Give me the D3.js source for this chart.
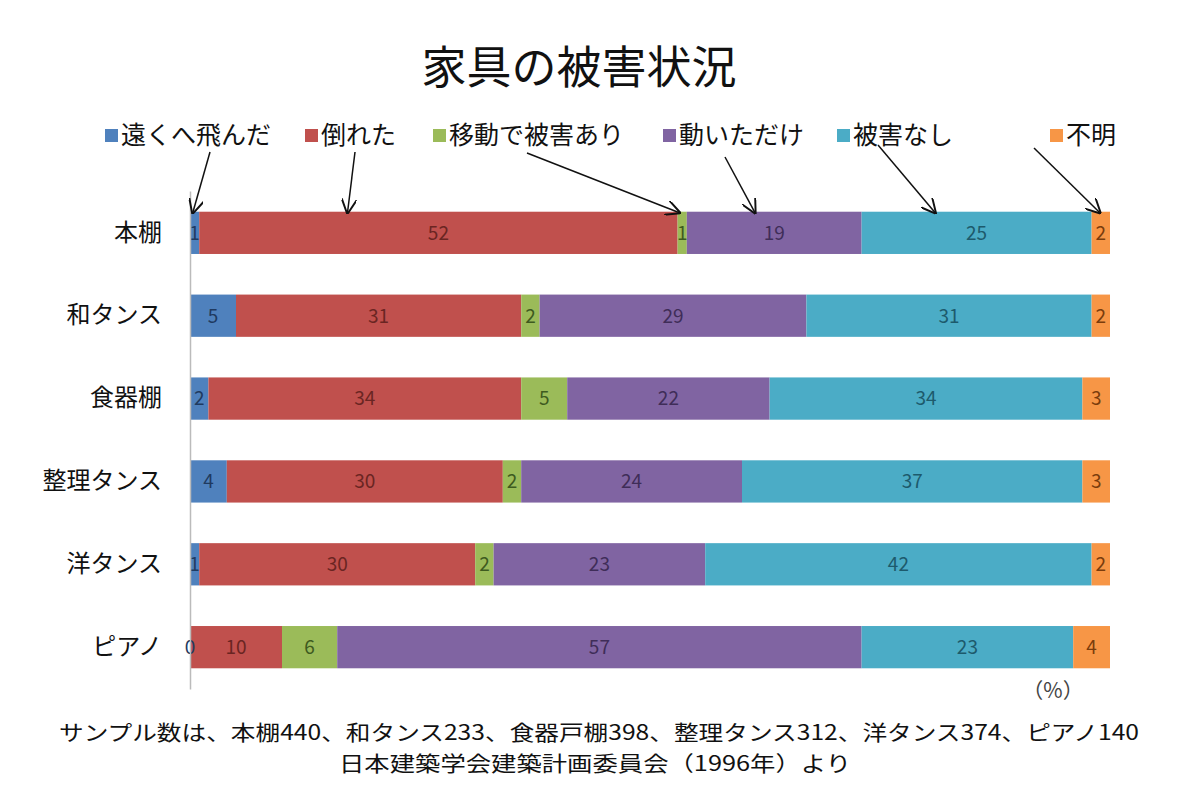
<!DOCTYPE html>
<html>
<head>
<meta charset="utf-8">
<script src="https://cdn.jsdelivr.net/npm/d3@7"></script>
<style>
  body { margin: 0; background: #fff; }
  text { font-family: "Noto Sans CJK JP", "Noto Sans", sans-serif; }
</style>
</head>
<body>
<div id="chart"></div>
<script>
// 1. Data
const categories = ["本棚", "和タンス", "食器棚", "整理タンス", "洋タンス", "ピアノ"];
const seriesNames = ["遠くへ飛んだ", "倒れた", "移動で被害あり", "動いただけ", "被害なし", "不明"];
const farAway = [1, 5, 2, 4, 1, 0];
const fellOver = [52, 31, 34, 30, 30, 10];
const movedDamaged = [1, 2, 5, 2, 2, 6];
const movedOnly = [19, 29, 22, 24, 23, 57];
const noDamage = [25, 31, 34, 37, 42, 23];
const unknown = [2, 2, 3, 3, 2, 4];
const seriesValues = [farAway, fellOver, movedDamaged, movedOnly, noDamage, unknown];

const colors = ["#4f81bd", "#c0504d", "#9bbb59", "#8064a2", "#4bacc6", "#f79646"];
const labelColors = ["#1f3a60", "#6a2522", "#3e5a1f", "#3f2d58", "#1d5a6c", "#7a3c0c"];

const rows = categories.map((c, i) => {
  const r = { category: c };
  seriesNames.forEach((s, j) => (r[s] = seriesValues[j][i]));
  return r;
});
const stacked = d3.stack().keys(seriesNames)(rows);

// 2. Dimensions
const dims = { width: 1200, height: 809, left: 190, right: 1110, top: 191, bottom: 689 };

// 3. Container
const svg = d3.select("#chart").append("svg")
  .attr("width", dims.width)
  .attr("height", dims.height);

// 4. Scales
const xScale = d3.scaleLinear().domain([0, 100]).range([dims.left, dims.right]);
const yScale = d3.scaleBand().domain(categories)
  .range([dims.top, dims.bottom])
  .paddingInner(0.49)
  .paddingOuter(0.25);

// Title
svg.append("text")
  .attr("x", 579).attr("y", 84)
  .attr("text-anchor", "middle")
  .style("font-size", "45px")
  .attr("fill", "#111")
  .text("家具の被害状況");

// 5. Bars
svg.selectAll(".layer").data(stacked).join("g")
  .attr("class", "layer")
  .attr("fill", (d, i) => colors[i])
  .selectAll("rect").data(d => d).join("rect")
  .attr("x", d => xScale(d[0]))
  .attr("y", d => yScale(d.data.category))
  .attr("width", d => xScale(d[1]) - xScale(d[0]))
  .attr("height", yScale.bandwidth());

svg.selectAll(".labels").data(stacked).join("g")
  .attr("class", "labels")
  .each(function (layer, i) {
    d3.select(this).selectAll("text").data(layer).join("text")
      .attr("x", d => (xScale(d[0]) + xScale(d[1])) / 2)
      .attr("y", d => yScale(d.data.category) + yScale.bandwidth() / 2)
      .attr("dy", "0.36em")
      .attr("text-anchor", "middle")
      .attr("fill", labelColors[i])
      .style("font-size", "19px")
      .text(d => d[1] - d[0]);
  });

// 6. Axis
const yAxis = d3.axisLeft(yScale).tickSize(0).tickPadding(28);
const yAxisGroup = svg.append("g")
  .attr("transform", `translate(${dims.left},0)`)
  .call(yAxis);
yAxisGroup.select(".domain").attr("stroke", "#bbb").attr("stroke-width", 1.5);
yAxisGroup.selectAll(".tick text")
  .style("font-size", "24px")
  .style("font-family", '"Noto Sans CJK JP", sans-serif')
  .attr("fill", "#111");

svg.append("text")
  .attr("x", 1053).attr("y", 698)
  .attr("text-anchor", "middle")
  .style("font-size", "21px")
  .attr("fill", "#444")
  .text("（%）");

// Legend
const legendX = [105, 305, 433, 663, 837, 1050];
const legend = svg.append("g");
seriesNames.forEach((name, i) => {
  legend.append("rect")
    .attr("x", legendX[i]).attr("y", 129)
    .attr("width", 13).attr("height", 13)
    .attr("fill", colors[i]);
  legend.append("text")
    .attr("x", legendX[i] + 16).attr("y", 144)
    .style("font-size", "25px")
    .attr("fill", "#111")
    .text(name);
});

// Arrows from legend to segments
svg.append("defs").append("marker")
  .attr("id", "arrow")
  .attr("viewBox", "0 0 10 10")
  .attr("refX", 9).attr("refY", 5)
  .attr("markerWidth", 10).attr("markerHeight", 10)
  .attr("orient", "auto")
  .append("path")
  .attr("d", "M0,0 L10,5 L0,10")
  .attr("fill", "none")
  .attr("stroke", "#111")
  .attr("stroke-width", 1.3);

const arrowStart = [[210, 152], [355, 152], [527, 153], [725, 157], [878, 145], [1034, 148]];
const arrowFrac = [0.3, 0.31, 0.2, 0.39, 0.32, 0.45];
const firstRow = stacked.map(layer => layer[0]);
svg.append("g").selectAll("line").data(firstRow).join("line")
  .attr("x1", (d, i) => arrowStart[i][0])
  .attr("y1", (d, i) => arrowStart[i][1])
  .attr("x2", (d, i) => xScale(d[0]) + arrowFrac[i] * (xScale(d[1]) - xScale(d[0])))
  .attr("y2", yScale(categories[0]) + 1)
  .attr("stroke", "#111")
  .attr("stroke-width", 1.5)
  .attr("marker-end", "url(#arrow)");

// Footnotes
svg.append("text")
  .attr("x", 599).attr("y", 740)
  .attr("text-anchor", "middle")
  .attr("textLength", 1080)
  .attr("lengthAdjust", "spacingAndGlyphs")
  .style("font-size", "21px")
  .attr("fill", "#111")
  .text("サンプル数は、本棚440、和タンス233、食器戸棚398、整理タンス312、洋タンス374、ピアノ140");
svg.append("text")
  .attr("x", 595).attr("y", 771)
  .attr("text-anchor", "middle")
  .attr("textLength", 512)
  .attr("lengthAdjust", "spacingAndGlyphs")
  .style("font-size", "21px")
  .attr("fill", "#111")
  .text("日本建築学会建築計画委員会（1996年）より");
</script>
</body>
</html>
